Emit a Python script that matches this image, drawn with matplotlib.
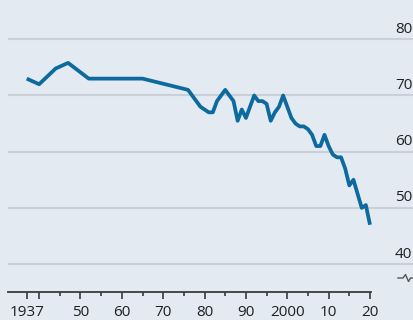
import matplotlib
matplotlib.use("Agg")
import matplotlib.pyplot as plt
from matplotlib.lines import Line2D

# US church membership, % of adults
years = [1937, 1940, 1944, 1947, 1952, 1965, 1976, 1978, 1979, 1980, 1981,
         1982, 1983, 1984, 1985, 1986, 1987, 1988, 1989, 1990, 1991, 1992,
         1993, 1994, 1995, 1996, 1997, 1998, 1999, 2000, 2001, 2002, 2003,
         2004, 2005, 2006, 2007, 2008, 2009, 2010, 2011, 2012, 2013, 2014,
         2015, 2016, 2018, 2019, 2020]
members = [73, 72, 74.8, 75.8, 73, 73, 71, 69, 68, 67.5, 67,
           67, 69, 70, 71, 70, 69, 65.5, 67.5, 66, 68, 70,
           69, 69, 68.5, 65.5, 67, 68, 70, 68, 66, 65, 64.5,
           64.5, 64, 63, 61, 61, 63, 61, 59.5, 59, 59, 57,
           54, 55, 50, 50.5, 47]

yticks = [40, 50, 60, 70, 80]
decade_ticks = [1937, 1940, 1950, 1960, 1970, 1980, 1990, 2000, 2010, 2020]
half_ticks = [1945, 1955, 1965, 1975, 1985, 1995, 2005, 2015]
xlabels = {1937: "1937", 1950: "50", 1960: "60", 1970: "70", 1980: "80",
           1990: "90", 2000: "2000", 2010: "10", 2020: "20"}

bg = "#e3eaf1"
grid_col = "#c9d0d7"
line_col = "#0d6a9e"
text_col = "#1f1f1f"

plt.rcParams["font.family"] = ["Open Sans", "DejaVu Sans"]

fig = plt.figure(figsize=(4.14, 3.2), dpi=100)
fig.patch.set_facecolor(bg)
ax = fig.add_axes([0, 0, 1, 1])
ax.set_facecolor(bg)
ax.set_xlim(1930.54, 2030.64)
ax.set_ylim(30.05, 86.99)
ax.axis("off")

# horizontal gridlines with value labels sitting on the right
ax.hlines(yticks, 1932.4, 2031, color=grid_col, lw=1.5, zorder=1)
for v in yticks:
    ax.text(2030.2, v + 0.45, str(v), ha="right", va="bottom",
            fontsize=11, color=text_col)

# the series
ax.plot(years, members, color=line_col, lw=2.7, solid_joinstyle="round",
        solid_capstyle="butt", zorder=3)

# x axis baseline with ticks
base = 34.95
ax.plot([1932.4, 2020.2], [base, base], color="#3a3a3a", lw=1.3,
        clip_on=False, zorder=2)
ax.vlines(decade_ticks, base - 1.25, base, color="#3a3a3a", lw=1.2)
ax.vlines(half_ticks, base - 0.7, base, color="#3a3a3a", lw=1.2)
for yr, lab in xlabels.items():
    ax.text(yr, 30.75, lab, ha="center", va="baseline", fontsize=11,
            color=text_col)

# break mark under the value axis
bx = [398, 403, 405.5, 408.5, 410.5, 414]
by = [278, 278, 274.5, 281.5, 278, 278]
fig.add_artist(Line2D([x / 414 for x in bx], [1 - y / 320 for y in by],
                      transform=fig.transFigure, color="#555555", lw=1.0))

fig.savefig("out.png", dpi=100, facecolor=bg)
